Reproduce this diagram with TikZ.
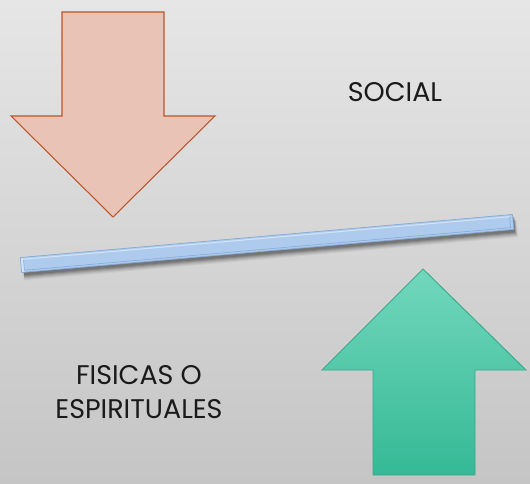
\documentclass[tikz,border=0pt]{standalone}
\usepackage{fontspec}
\setmainfont{Poppins}
\usepackage{xcolor}
\usetikzlibrary{positioning}

\definecolor{bgtop}{HTML}{E6E6E6}
\definecolor{bgbottom}{HTML}{C5C5C5}
\definecolor{salmonfill}{HTML}{EAC3B7}
\definecolor{salmonline}{HTML}{B8562C}
\definecolor{greentop}{HTML}{72D7BD}
\definecolor{greenbottom}{HTML}{35B996}
\definecolor{greenline}{HTML}{3AAA8A}
\definecolor{barfill}{HTML}{AECBED}
\definecolor{barline}{HTML}{86AAD9}
\definecolor{barlight}{HTML}{D3E3F6}
\definecolor{textdark}{HTML}{1A1A1A}

\begin{document}
\begin{tikzpicture}[x=0.03cm, y=-0.03cm]
\tikzstyle{wordtag} = [font=\fontsize{23}{29}\selectfont, text=textdark, align=center, inner sep=0pt]
\tikzstyle{downarrow} = [fill=salmonfill, draw=salmonline, line width=0.9pt, line join=miter]
\tikzstyle{uparrow} = [top color=greentop, bottom color=greenbottom, draw=greenline, line width=0.8pt, line join=miter]

\useasboundingbox (0,0) rectangle (530,484);
\shade[top color=bgtop, bottom color=bgbottom] (0,0) rectangle (530,484);

% falling arrow
\draw[downarrow] (62,12) -- (164,12) -- (164,116) -- (215,116) -- (113,217) -- (11,116) -- (62,116) -- cycle;

% rising arrow
\draw[uparrow] (423,269) -- (526,370) -- (475,370) -- (475,475) -- (373,475) -- (373,370) -- (322,370) -- cycle;

% balance bar
\begin{scope}[shift={(21,265)}, rotate=5]
  \foreach \d/\o in {7/0.05, 6/0.06, 5/0.08, 4/0.10, 3/0.12, 2/0.14} {
    \fill[black, opacity=\o] (2,-7.5+\d) rectangle (494+\d*0.5,7.5+\d+1);
  }
  \fill[barfill, draw=barline, line width=0.6pt] (0,-7.5) rectangle (494,7.5);
  \draw[barlight, line width=0.9pt] (3,-5.5) -- (491,-5.5);
  \fill[barlight] (0.5,-7) rectangle (3,7);
  \draw[barline, line width=0.5pt] (3,-5) -- (3,5.5) -- (491,5.5) -- (491,-5);
\end{scope}

\node (social) [wordtag] at (395,92) {SOCIAL};
\node (fisicas) [wordtag] at (139,392) {FISICAS O\\ESPIRITUALES};

\end{tikzpicture}
\end{document}
